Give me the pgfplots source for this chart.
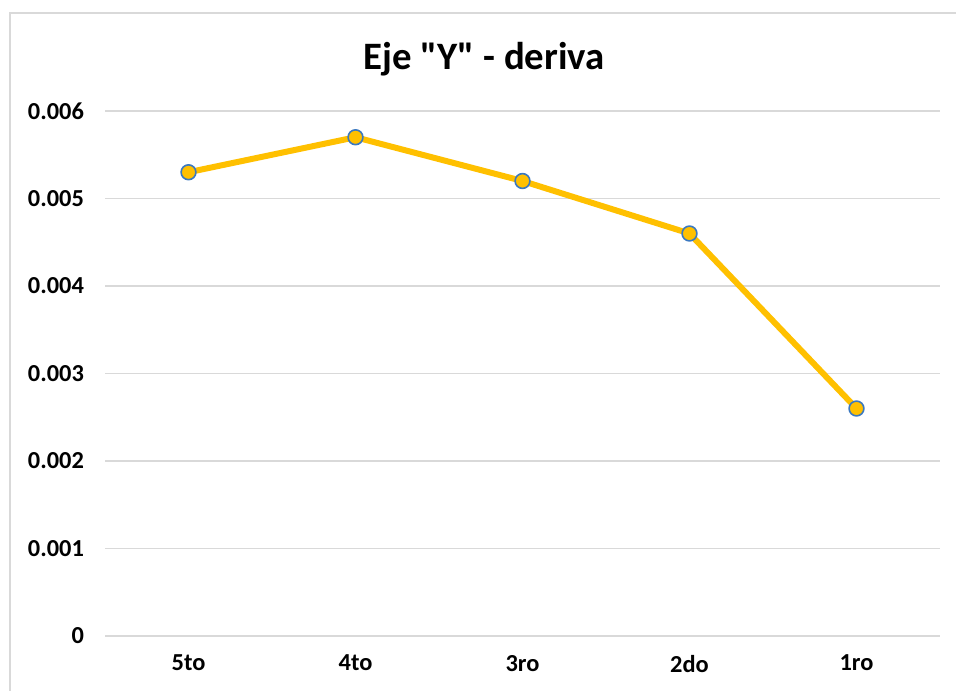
\documentclass[border=0pt]{standalone}
\usepackage{fontspec}
\setmainfont{Carlito}
\newfontfamily\plaincarlito{Carlito}[Ligatures=TeXOff]
\usepackage{pgfplots}
\pgfplotsset{compat=1.18}
\definecolor{lineyel}{HTML}{FFC000}
\definecolor{mkblue}{HTML}{3A78C0}
\definecolor{gridg}{HTML}{D9D9D9}
\begin{document}
\begin{tikzpicture}
\useasboundingbox (0,0) rectangle (478pt,345pt);
\draw[gridg, line width=0.75pt] (5pt,-10pt) -- (5pt,338.5pt) -- (500pt,338.5pt);
\node[font=\plaincarlito\fontsize{19.4}{22}\selectfont\bfseries] at (242pt,315.5pt) {Eje "Y" - deriva};
\begin{axis}[
  at={(52.5pt,27pt)}, anchor=south west,
  scale only axis, width=417.5pt, height=262.5pt,
  xmin=-0.5, xmax=4.5, ymin=0, ymax=0.006,
  scaled y ticks=false,
  xtick={0,1,2,3,4},
  xticklabels={5to,4to,3ro,2do,1ro},
  ytick={0,0.001,0.002,0.003,0.004,0.005,0.006},
  yticklabels={0,0.001,0.002,0.003,0.004,0.005,0.006},
  axis line style={draw=none},
  major tick length=0pt,
  ymajorgrids,
  major grid style={color=gridg, line width=0.75pt},
  tick label style={font=\fontsize{12.2}{14}\selectfont\bfseries},
  yticklabel style={xshift=-7pt},
  xticklabel style={yshift=-6pt},
  clip=false,
]
\addplot[color=lineyel, line width=3pt, mark=*, mark size=3.7pt,
  mark options={fill=lineyel, draw=mkblue, line width=0.8pt}]
  coordinates {(0,0.0053) (1,0.0057) (2,0.0052) (3,0.0046) (4,0.0026)};
\end{axis}
\end{tikzpicture}
\end{document}
